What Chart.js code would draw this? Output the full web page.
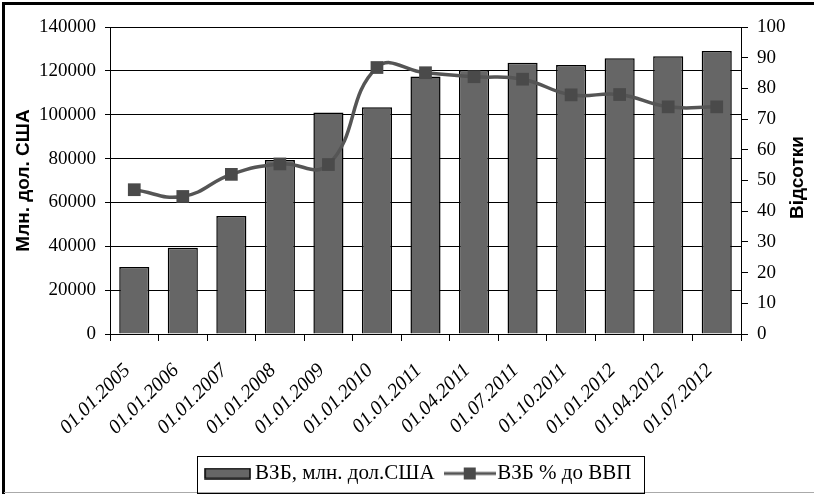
<!DOCTYPE html>
<html>
<head>
<meta charset="utf-8">
<script src="https://cdn.jsdelivr.net/npm/chart.js@4.4.1/dist/chart.umd.min.js"></script>
<style>
  html, body { margin: 0; padding: 0; background: #fff; }
  #wrap { position: relative; width: 814px; height: 494px; }
</style>
</head>
<body>
<div id="wrap"><canvas id="chart" width="814" height="494"></canvas></div>
<script>
const dates = ['01.01.2005', '01.01.2006', '01.01.2007', '01.01.2008', '01.01.2009', '01.01.2010',
  '01.01.2011', '01.04.2011', '01.07.2011', '01.10.2011', '01.01.2012', '01.04.2012', '01.07.2012'];
const debtUsd = [30600, 39300, 53800, 79400, 101000, 103400, 117400, 120400, 123700, 122700, 125800, 126700, 129000];
const debtGdp = [47.0, 44.8, 52.0, 55.4, 55.2, 86.8, 85.1, 83.8, 83.0, 77.9, 78.0, 74.0, 74.0];
const barLabel = 'ВЗБ, млн. дол.США';
const lineLabel = 'ВЗБ % до ВВП';
const leftTitle = 'Млн. дол. США';
const rightTitle = 'Відсотки';

const serif = '"Liberation Serif", "Times New Roman", serif';
const sans = '"Liberation Sans", Arial, sans-serif';
const barColor = '#666666';
const lineColor = '#555555';
const markColor = '#4a4a4a';

// legend swatches
function barSwatch() {
  const c = document.createElement('canvas');
  c.width = 47; c.height = 12;
  const g = c.getContext('2d');
  g.fillStyle = barColor;
  g.fillRect(1, 1, 45, 10);
  g.strokeStyle = '#000';
  g.lineWidth = 1.5;
  g.strokeRect(1, 1, 45, 10);
  return c;
}
function lineSwatch() {
  const c = document.createElement('canvas');
  c.width = 52; c.height = 14;
  const g = c.getContext('2d');
  g.strokeStyle = lineColor;
  g.lineWidth = 3;
  g.beginPath(); g.moveTo(0, 7); g.lineTo(52, 7); g.stroke();
  g.fillStyle = markColor;
  g.fillRect(20, 1, 12, 12);
  return c;
}

const frame = {
  id: 'frame',
  afterDraw(chart) {
    const g = chart.ctx;
    g.save();
    g.strokeStyle = '#000';
    g.lineWidth = 3;
    g.beginPath();
    g.moveTo(3.5, 494); g.lineTo(3.5, 3.5); g.lineTo(814, 3.5);
    g.stroke();
    g.strokeStyle = '#aaa';
    g.lineWidth = 1;
    g.beginPath(); g.moveTo(4, 492.5); g.lineTo(814, 492.5); g.stroke();

    // legend box
    const hb = chart.legend.legendHitBoxes;
    if (hb && hb.length) {
      const first = hb[0], last = hb[hb.length - 1];
      const cy = first.top + first.height / 2;
      const x0 = first.left - 14, x1 = last.left + last.width + 12;
      g.strokeStyle = '#000';
      g.lineWidth = 1;
      g.strokeRect(Math.round(x0) + 0.5, Math.round(cy - 18) + 0.5, Math.round(x1 - x0), 37);
    }

    // right axis title, reading upwards
    const y1 = chart.scales.y1;
    g.fillStyle = '#000';
    g.font = 'bold 19px ' + sans;
    g.textAlign = 'center';
    g.textBaseline = 'middle';
    g.translate(798, (y1.top + y1.bottom) / 2 - 3);
    g.rotate(-Math.PI / 2);
    g.fillText(rightTitle, 0, 0);
    g.restore();
  }
};

new Chart(document.getElementById('chart'), {
  data: {
    labels: dates,
    datasets: [
      {
        type: 'line',
        label: lineLabel,
        data: debtGdp,
        yAxisID: 'y1',
        order: 0,
        borderColor: lineColor,
        borderWidth: 3.5,
        tension: 0.45,
        pointStyle: 'rect',
        pointRadius: 9,
        pointBackgroundColor: markColor,
        pointBorderColor: markColor,
        pointBorderWidth: 0,
        fill: false
      },
      {
        type: 'bar',
        label: barLabel,
        data: debtUsd,
        yAxisID: 'y',
        order: 1,
        backgroundColor: barColor,
        borderColor: '#000',
        borderWidth: 1.5,
        categoryPercentage: 1,
        barPercentage: 0.62
      }
    ]
  },
  options: {
    responsive: false,
    animation: false,
    layout: { padding: { left: 28, right: 0, top: 27, bottom: 0 } },
    scales: {
      x: {
        offset: true,
        grid: { offset: true, drawOnChartArea: false, color: '#000', tickLength: 7, tickColor: '#000' },
        border: { color: '#000', width: 1 },
        ticks: {
          color: '#000',
          font: { family: serif, size: 20, style: 'italic' },
          minRotation: 45, maxRotation: 45,
          padding: 18,
          labelOffset: -7,
          autoSkip: false
        },
        afterFit(s) { s.height = 111; }
      },
      y: {
        position: 'left',
        min: 0, max: 140000,
        ticks: { stepSize: 20000, color: '#000', font: { family: serif, size: 19 }, padding: 9, callback: v => String(v) },
        grid: { color: '#000', lineWidth: 1, tickLength: 5, tickColor: '#000' },
        border: { color: '#000', width: 1 },
        title: { display: true, text: leftTitle, color: '#000', font: { family: sans, size: 19, weight: 'bold' }, padding: { top: -16, bottom: 0 } },
        afterFit(s) { s.width = 82; }
      },
      y1: {
        position: 'right',
        min: 0, max: 100,
        ticks: { stepSize: 10, color: '#000', font: { family: serif, size: 19 }, padding: 9 },
        grid: { drawOnChartArea: false, tickLength: 7, tickColor: '#000' },
        border: { color: '#000', width: 1 },
        afterFit(s) { s.width = 73; }
      }
    },
    plugins: {
      legend: {
        position: 'bottom',
        labels: {
          color: '#000',
          font: { family: serif, size: 21 },
          usePointStyle: true,
          pointStyleWidth: 34,
          padding: 18,
          generateLabels(chart) {
            return [
              { text: barLabel, datasetIndex: 1, pointStyle: barSwatch(), fontColor: '#000', lineWidth: 0 },
              { text: lineLabel, datasetIndex: 0, pointStyle: lineSwatch(), fontColor: '#000', lineWidth: 0 }
            ];
          }
        }
      },
      tooltip: { enabled: false }
    }
  },
  plugins: [frame]
});
</script>
</body>
</html>
